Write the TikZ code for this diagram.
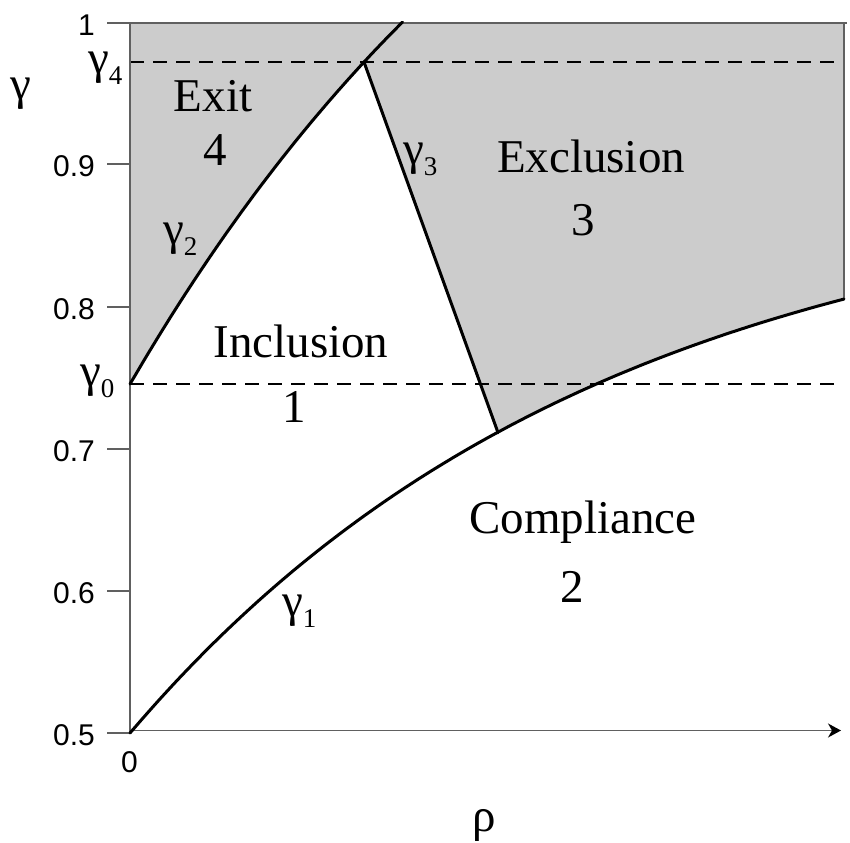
\documentclass[tikz,border=0pt]{standalone}
\usepackage{fontspec}
\setmainfont{Liberation Serif}
\newfontfamily\arialf{Liberation Sans}
\usetikzlibrary{arrows.meta}
\definecolor{regiongray}{HTML}{CCCCCC}
\definecolor{axisgray}{HTML}{606060}
\newcommand{\gsb}[1]{γ\raisebox{-11pt}{\fontsize{27}{27}\selectfont #1}}
\tikzset{
  big/.style={font=\fontsize{47}{47}\selectfont, inner sep=0pt, anchor=base},
  gbig/.style={font=\fontsize{47}{47}\selectfont, inner sep=0pt, anchor=base west},
  ticklab/.style={font=\arialf\fontsize{30}{30}\selectfont, inner sep=0pt, anchor=east},
  axisline/.style={draw=axisgray, line width=1.5pt},
  bnd/.style={line width=3pt, black, line join=round, line cap=round},
  dashline/.style={line width=2.5pt, black, dash pattern=on 14pt off 9pt},
}
\begin{document}
\begin{tikzpicture}[x=1pt,y=-1pt]
\useasboundingbox (0,0) rectangle (850,842);
% key points
\coordinate (O) at (130,733);
\coordinate (G0) at (130,384);
\coordinate (P) at (364,62);
\coordinate (Q) at (498,432.6);
\coordinate (TL) at (130,23);
\coordinate (TM) at (402.5,23);
\coordinate (TR) at (844,23);
\coordinate (R1) at (844,299.6);
% shaded regions
\fill[regiongray] (TL) -- (TM) -- plot[domain=402.5:130,samples=60] (\x,{384-862*(1-exp(-0.002*(\x-130)))}) -- cycle;
\fill[regiongray] (P) -- (Q) -- plot[domain=498:844,samples=80] (\x,{733-558*(1-exp(-0.0021*(\x-130)))}) -- (TR) -- (TM) -- plot[domain=402.5:364,samples=20] (\x,{384-862*(1-exp(-0.002*(\x-130)))}) -- cycle;
% dashed levels
\coordinate (D4a) at (130,62);
\coordinate (D4b) at (838,62);
\coordinate (D0b) at (838,384);
\draw[dashline] (D4a) -- (D4b);
\draw[dashline] (G0) -- (D0b);
% axes
\coordinate (T1) at (107,23);
\coordinate (T1e) at (847,23);
\draw[axisline] (T1) -- (T1e);
\draw[axisline] (TR) -- (R1);
\draw[axisline] (TL) -- (O);
\foreach \yy in {164,307,449,591,733} \draw[axisline] (107,\yy) -- (130,\yy);
\coordinate (XA) at (130,730.5);
\coordinate (XB) at (841,730.5);
\draw[axisline, -{Stealth[length=13pt,width=14pt,inset=4pt,black]}] (XA) -- (XB);
% boundary curves
\draw[bnd] plot[domain=130:844,samples=120] (\x,{733-558*(1-exp(-0.0021*(\x-130)))});
\draw[bnd] plot[domain=130:402.5,samples=60] (\x,{384-862*(1-exp(-0.002*(\x-130)))});
\draw[bnd] (P) -- (Q);
% tick labels
\node[ticklab] (l1) at (95,25) {1};
\node[ticklab] (l09) at (95,166) {0.9};
\node[ticklab] (l08) at (95,309) {0.8};
\node[ticklab] (l07) at (95,451) {0.7};
\node[ticklab] (l06) at (95,593) {0.6};
\node[ticklab] (l05) at (95,735) {0.5};
\node[font=\arialf\fontsize{30}{30}\selectfont, inner sep=0pt] (l0) at (129.5,762) {0};
% axis names
\node[gbig] (gam) at (10,99.5) {γ};
\node[big] (rho) at (484,831) {ρ};
% curve labels
\node[gbig] (g4) at (88,73.6) {\gsb{4}};
\node[gbig] (g0) at (80,386.6) {\gsb{0}};
\node[gbig] (g2) at (163,244.6) {\gsb{2}};
\node[gbig] (g3) at (403,164.6) {\gsb{3}};
\node[gbig] (g1) at (282,616.6) {\gsb{1}};
% region labels
\node[big] (exit) at (213,112) {Exit};
\node[big] (n4) at (215,166) {4};
\node[big] (excl) at (591,173) {Exclusion};
\node[big] (n3) at (583,235) {3};
\node[big] (incl) at (301,357) {Inclusion};
\node[big] (n1) at (294,422) {1};
\node[big] (comp) at (583,533) {Compliance};
\node[big] (n2) at (572,602) {2};
\end{tikzpicture}
\end{document}
